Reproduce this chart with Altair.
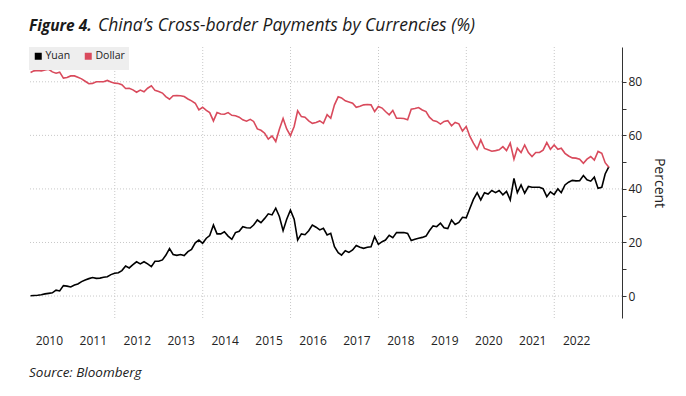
import altair as alt
import pandas as pd

# Monthly shares (%), Jan 2010 .. Mar 2023
yuan = [0.1, 0.2, 0.3, 0.5, 0.8, 1.0, 1.2, 2.2, 1.9, 3.9, 3.7, 3.4, 4.1, 4.5, 5.4, 6.0, 6.5, 6.9, 6.6, 6.7, 7.0, 7.2, 8.0, 8.5, 8.7, 9.5, 11.2,
        10.5, 11.7, 12.8, 12.0, 12.8, 12.0, 11.0, 13.0, 13.0, 13.5, 15.2, 17.7, 15.5, 15.2, 15.5, 15.1, 16.6, 17.4, 19.9, 20.9, 19.7, 21.6, 22.6, 26.5, 23.2, 23.2, 24.0, 22.4,
        21.2, 23.7, 24.2, 25.9, 25.5, 25.4, 26.5, 28.4, 27.4, 29.0, 30.7, 30.3, 32.8, 29.7, 24.4, 28.7, 32.1, 28.7, 20.9, 23.2, 22.9, 24.4, 26.5, 25.7, 24.7, 25.3, 22.8,
        23.4, 18.4, 16.2, 15.3, 16.9, 16.3, 17.2, 18.9, 18.2, 17.8, 18.2, 18.4, 22.2, 19.3, 20.3, 20.9, 22.7, 21.8, 23.7, 23.7, 23.7, 23.4, 20.7, 21.2, 21.6, 21.9, 22.4,
        24.4, 26.2, 25.9, 27.2, 25.5, 25.2, 28.4, 26.7, 27.5, 29.4, 29.2, 32.8, 36.1, 38.6, 35.9, 38.6, 38.1, 39.4, 38.6, 39.4, 37.8, 39.1, 35.9, 43.9, 38.6, 41.5, 38.4,
        40.9, 40.6, 40.6, 40.6, 40.1, 37.1, 38.9, 37.9, 40.0, 38.6, 41.5, 42.5, 43.2, 43.0, 43.1, 45.0, 43.4, 42.9, 44.4, 40.2, 40.6, 45.6, 48.3]

dollar = [83.5, 84.1, 84.2, 84.1, 84.4, 84.7, 83.7, 83.2, 83.6, 81.4, 81.6, 82.2, 82.2, 81.7, 81.1, 80.2, 79.3, 79.4, 80.0, 80.0, 80.0, 80.5, 79.9, 79.5, 79.4, 78.9, 77.5,
          77.6, 77.0, 76.1, 76.9, 76.3, 77.6, 78.5, 76.8, 76.4, 75.8, 74.5, 73.5, 74.8, 74.9, 74.8, 74.5, 73.6, 72.9, 72.0, 69.5, 70.5, 69.3, 68.5, 65.4, 68.5, 68.0, 67.9, 68.5,
          67.5, 67.3, 66.8, 65.8, 65.3, 66.0, 65.2, 62.4, 61.9, 60.8, 58.6, 59.8, 57.7, 62.3, 66.3, 62.4, 59.9, 63.3, 69.2, 67.0, 66.8, 65.4, 64.5, 64.8, 65.4, 64.5, 67.7,
          66.4, 71.4, 74.4, 74.0, 72.9, 72.5, 72.0, 70.5, 70.9, 71.4, 71.5, 71.4, 68.9, 70.8, 70.2, 68.9, 67.7, 69.3, 66.4, 66.4, 66.3, 65.8, 69.8, 70.0, 70.4, 69.5, 68.9,
          66.8, 65.5, 65.2, 64.2, 65.2, 65.5, 63.6, 64.8, 64.3, 61.6, 63.3, 59.6, 57.1, 54.8, 58.3, 55.1, 54.6, 54.1, 54.3, 54.6, 55.8, 54.3, 57.1, 51.1, 55.2, 53.6, 56.4,
          53.6, 52.1, 53.6, 53.6, 54.5, 57.3, 54.8, 56.4, 54.8, 55.2, 53.3, 52.3, 51.6, 51.5, 51.1, 49.6, 51.1, 52.1, 50.8, 54.0, 53.3, 49.8, 48.1]

series_names = ["Yuan", "Dollar"]
series_colors = ["#000000", "#d94a5c"]
year_labels = list(range(2010, 2023))
grid_years = [2012, 2014, 2016, 2018, 2020, 2022]
y_grid = [0, 20, 40, 60, 80]
y_ticks = [0, 10, 20, 30, 40, 50, 60, 70, 80]

title_bold = "Figure 4."
title_rest = "China\u2019s Cross-border Payments by Currencies (%)"
source_text = "Source: Bloomberg"

dates = [(pd.Timestamp("2010-01-01") + pd.offsets.MonthEnd(i + 1)).strftime("%Y-%m-%d") for i in range(len(yuan))]
df = pd.DataFrame({
    "date": dates * 2,
    "series": ["Yuan"] * len(yuan) + ["Dollar"] * len(dollar),
    "value": yuan + dollar,
})

W, H = 593, 271
FONT = "Open Sans"

x_scale = alt.Scale(domain=[alt.DateTime(year=2010, month=1, date=18),
                            alt.DateTime(year=2023, month=7, date=18)])
y_scale = alt.Scale(domain=[-8.2, 93], nice=False, zero=False)

x_axis = alt.Axis(values=[alt.DateTime(year=y, month=7, date=2) for y in year_labels],
                  format="%Y", domain=False, ticks=False, grid=False,
                  labelPadding=17, labelFontSize=12, labelFont=FONT,
                  labelColor="#222222", labelFlush=False, title=None)
y_axis = alt.Axis(orient="right", values=y_ticks, grid=False,
                  labelExpr="datum.value % 20 == 0 ? datum.label : ''",
                  domain=True, domainColor="#333333", domainWidth=1,
                  ticks=True, tickSize=4, tickColor="#333333",
                  labelPadding=2, labelFontSize=12, labelFont=FONT, labelColor="#222222",
                  title="Percent", titleAngle=90, titleFontSize=14, titleFont=FONT,
                  titleFontWeight="normal", titleColor="#222222", titlePadding=10)

lines = alt.Chart(df).mark_line(strokeWidth=1.6, interpolate="linear").encode(
    x=alt.X("date:T", scale=x_scale, axis=x_axis),
    y=alt.Y("value:Q", scale=y_scale, axis=y_axis),
    color=alt.Color("series:N", scale=alt.Scale(domain=series_names, range=series_colors),
                    legend=alt.Legend(orient="top-left", direction="horizontal", title=None,
                                      fillColor="#eeeeee", padding=4, offset=0,
                                      symbolType="square", symbolSize=9, symbolStrokeWidth=4,
                                      labelFontSize=10.5, labelFont=FONT, labelColor="#222222",
                                      gridAlign="none", columnPadding=7,
                                      symbolOffset=0, labelOffset=2)),
)

vgrid = alt.Chart(pd.DataFrame({"date": [f"{y}-01-01" for y in grid_years]})).mark_rule(
    color="#c8c8c8", strokeDash=[1, 2], strokeWidth=1
).encode(x=alt.X("date:T", scale=x_scale, axis=x_axis))

hgrid = alt.Chart(pd.DataFrame({"value": y_grid})).mark_rule(
    color="#c8c8c8", strokeDash=[1, 2], strokeWidth=1
).encode(y=alt.Y("value:Q", scale=y_scale, axis=y_axis))

t1 = alt.Chart(pd.DataFrame({"t": [title_bold]})).mark_text(
    align="left", baseline="alphabetic", font=FONT, fontSize=15.5, fontStyle="italic",
    fontWeight="bold", color="#1a1a1a"
).encode(x=alt.value(0), y=alt.value(-16), text="t:N")

t2 = alt.Chart(pd.DataFrame({"t": [title_rest]})).mark_text(
    align="left", baseline="alphabetic", font=FONT, fontSize=17.5, fontStyle="italic",
    fontWeight="normal", color="#1a1a1a"
).encode(x=alt.value(69), y=alt.value(-16), text="t:N")

src = alt.Chart(pd.DataFrame({"t": [source_text]})).mark_text(
    align="left", baseline="alphabetic", font=FONT, fontSize=13.5, fontStyle="italic",
    color="#222222"
).encode(x=alt.value(0), y=alt.value(H + 59), text="t:N")

chart = alt.layer(vgrid, hgrid, lines, t1, t2, src).properties(
    width=W, height=H,
    background="white",
    autosize=alt.AutoSizeParams(type="none"),
    padding={"left": 21, "top": 39, "right": 54, "bottom": 64},
).configure_view(stroke=None)

chart.save("out.html", embed_options={"renderer": "svg", "actions": False})
